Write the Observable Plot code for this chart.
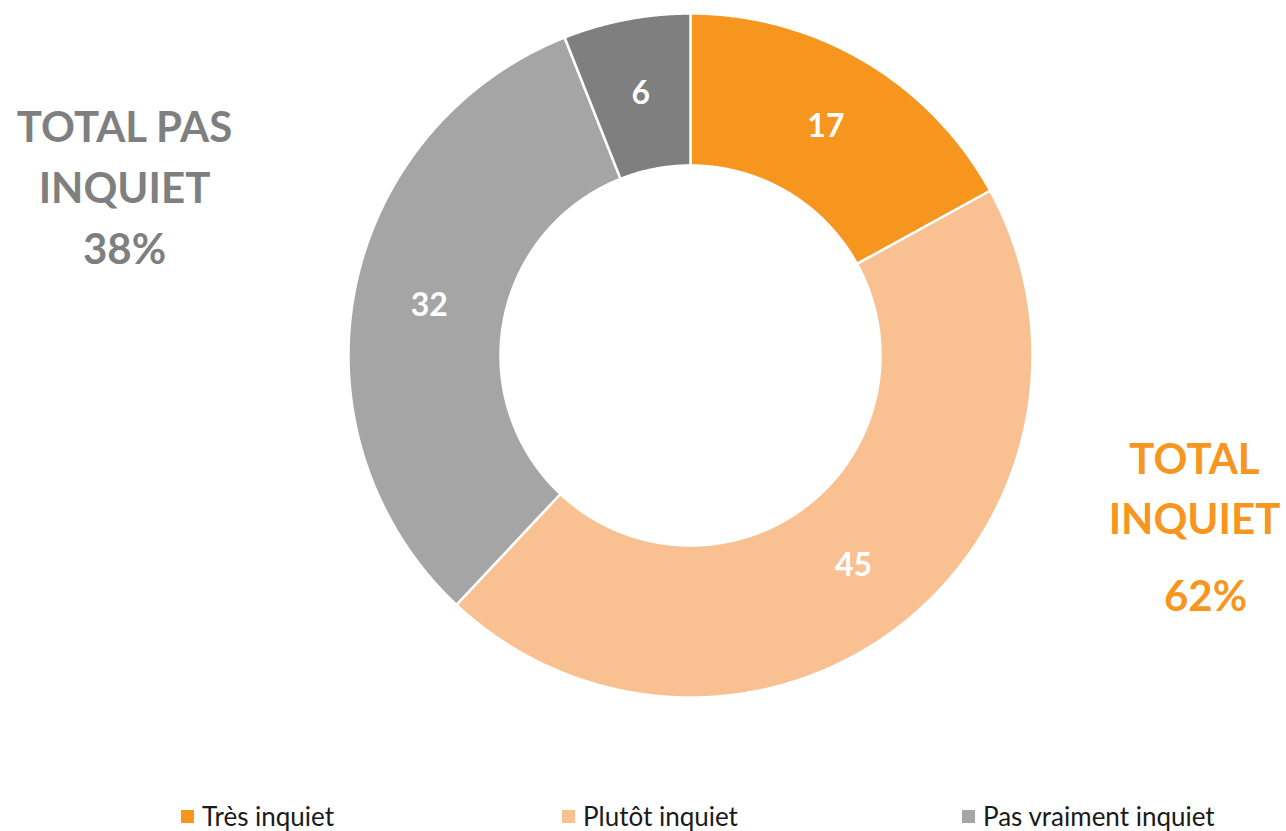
<!DOCTYPE html>
<html>
<head>
<meta charset="utf-8">
<script src="https://cdn.jsdelivr.net/npm/d3@7"></script>
<script src="https://cdn.jsdelivr.net/npm/@observablehq/plot@0.6"></script>
<style>
  html, body { margin: 0; padding: 0; background: #fff; }
  #wrap { position: relative; width: 1286px; height: 831px; overflow: hidden; font-family: Lato, "Open Sans", sans-serif; }
  #legend { position: absolute; left: 0; top: 798px; width: 1286px; height: 36px; }
  .item { position: absolute; top: 0; height: 36px; display: flex; align-items: center; font-size: 26px; color: #1a1a1a; white-space: nowrap; }
  .sw { width: 13px; height: 13px; margin-right: 8px; display: inline-block; }
</style>
</head>
<body>
<div id="wrap"><div id="chart"></div><div id="legend"></div></div>
<script>
// ---- data ----
const categories = ["Très inquiet", "Plutôt inquiet", "Pas vraiment inquiet", "Pas du tout inquiet"];
const values = [17, 45, 32, 6];
const colors = ["#F7961E", "#F9C191", "#A5A5A5", "#7F7F7F"];
const legendCategories = ["Très inquiet", "Plutôt inquiet", "Pas vraiment inquiet"];
const totalInquietLines = ["TOTAL", "INQUIET"];
const totalPasLines = ["TOTAL PAS", "INQUIET"];
const inquietGroup = ["Très inquiet", "Plutôt inquiet"];
const pasGroup = ["Pas vraiment inquiet", "Pas du tout inquiet"];

// ---- geometry (pixel-unit coordinate system centred on the donut) ----
const W = 1286, H = 797;
const cx = 690, cy = 355;
const R = 342, r0 = 190, rm = (R + r0) / 2;

const pie = d3.pie().sort(null).value(d => d.value)(categories.map((c, i) => ({cat: c, value: values[i]})));

const pts = [];
for (const s of pie) {
  const n = Math.max(2, Math.ceil((s.endAngle - s.startAngle) / 0.005));
  for (let k = 0; k <= n; k++) {
    const a = s.startAngle + (s.endAngle - s.startAngle) * k / n;
    pts.push({cat: s.data.cat, x: R * Math.sin(a), y: R * Math.cos(a)});
  }
  for (let k = n; k >= 0; k--) {
    const a = s.startAngle + (s.endAngle - s.startAngle) * k / n;
    pts.push({cat: s.data.cat, x: r0 * Math.sin(a), y: r0 * Math.cos(a)});
  }
}

const sumOf = group => d3.sum(categories.map((c, i) => group.includes(c) ? values[i] : 0));
const totInq = sumOf(inquietGroup);
const totPas = sumOf(pasGroup);

const leftText = [...totalPasLines, `${totPas}%`].map((t, i) => ({t, i}));
const rightText = [...totalInquietLines, `${totInq}%`].map((t, i) => ({t, i}));

const chart = Plot.plot({
  width: W,
  height: H,
  margin: 0,
  x: {domain: [-cx, W - cx], axis: null},
  y: {domain: [cy - H, cy], axis: null},
  color: {domain: categories, range: colors},
  style: {fontFamily: "Lato, 'Open Sans', sans-serif", background: "white"},
  marks: [
    Plot.line(pts, {x: "x", y: "y", z: "cat", fill: "cat", stroke: "white", strokeWidth: 2.5, curve: "linear-closed"}),
    Plot.text(pie, {
      x: d => rm * Math.sin((d.startAngle + d.endAngle) / 2),
      y: d => rm * Math.cos((d.startAngle + d.endAngle) / 2),
      text: d => String(d.data.value),
      fill: "white", fontSize: 32, fontWeight: "bold"
    }),
    Plot.text(leftText, {
      x: -566, y: d => 227 - d.i * 61, text: "t",
      fill: "#7F7F7F", fontSize: 42, fontWeight: "bold"
    }),
    Plot.text(rightText, {
      x: d => d.i === 2 ? 515 : 504, y: d => d.i === 2 ? -242 : -105 - d.i * 60, text: "t",
      fill: "#F7961E", fontSize: 42, fontWeight: "bold"
    })
  ]
});
document.getElementById("chart").appendChild(chart);

// ---- legend ----
const legendLeft = [181, 562, 962];
const legend = document.getElementById("legend");
legendCategories.forEach((c, i) => {
  const it = document.createElement("div");
  it.className = "item";
  it.style.left = legendLeft[i] + "px";
  const sw = document.createElement("span");
  sw.className = "sw";
  sw.style.background = colors[categories.indexOf(c)];
  it.appendChild(sw);
  it.appendChild(document.createTextNode(c));
  legend.appendChild(it);
});
</script>
</body>
</html>
